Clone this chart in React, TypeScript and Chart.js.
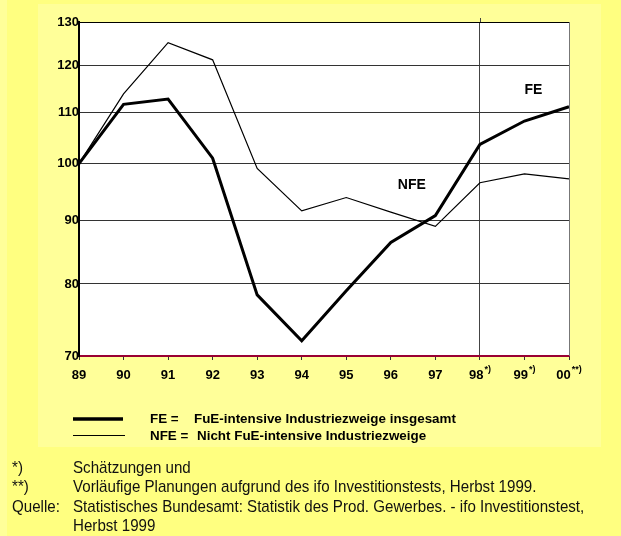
import React, { useEffect, useRef } from 'react';
import { Chart, registerables } from 'chart.js';

Chart.register(...registerables);

// ---- data ----
const years = ['89', '90', '91', '92', '93', '94', '95', '96', '97', '98', '99', '00'];
const yearMarks = ['', '', '', '', '', '', '', '', '', '*)', '*)', '**)'];
const feValues = [100, 111.6, 112.7, 101.0, 78.4, 72.0, 79.0, 86.4, 90.8, 103.6, 108.2, 111.1];
const nfeValues = [100, 113.8, 125.1, 121.2, 99.1, 91.6, 93.9, 91.4, 89.0, 96.5, 98.1, 97.2];
const yTicks = [70, 80, 90, 100, 110, 120, 130];
const legendCodes = ['FE =', 'NFE ='];
const legendTexts = ['FuE-intensive Industriezweige insgesamt', 'Nicht FuE-intensive Industriezweige'];
const footMarks = ['*)', '**)', 'Quelle:', ''];
const footTexts = [
  'Schätzungen und',
  'Vorläufige Planungen aufgrund des ifo Investitionstests, Herbst 1999.',
  'Statistisches Bundesamt: Statistik des Prod. Gewerbes. - ifo Investitionstest,',
  'Herbst 1999',
];
const seriesLabels = ['FE', 'NFE'];

const FONT = '"Liberation Sans", Arial, sans-serif';

const decorPlugin = {
  id: 'decor',
  beforeDraw(chart: any) {
    const ctx = chart.ctx;
    const a = chart.chartArea;
    ctx.save();
    ctx.fillStyle = '#FFFF80';
    ctx.fillRect(0, 0, chart.width, chart.height);
    ctx.fillStyle = '#FFFF99';
    ctx.fillRect(0, 0, 7, chart.height);
    ctx.fillRect(38, 4, 563, 443);
    ctx.fillStyle = '#FFFFFF';
    ctx.fillRect(a.left, a.top, a.right - a.left, a.bottom - a.top);
    ctx.restore();
  },
  afterDraw(chart: any) {
    const ctx = chart.ctx;
    const a = chart.chartArea;
    const xs = chart.scales.x;
    const ys = chart.scales.y;
    ctx.save();
    // right border
    ctx.strokeStyle = '#777';
    ctx.lineWidth = 1;
    ctx.beginPath();
    ctx.moveTo(a.right + 0.5, a.top);
    ctx.lineTo(a.right + 0.5, a.bottom);
    ctx.stroke();
    // small extension of the 98 marker line above the plot
    ctx.strokeStyle = '#444';
    const x98 = Math.round(xs.getPixelForValue(9)) + 0.5;
    ctx.beginPath();
    ctx.moveTo(x98, a.top - 4);
    ctx.lineTo(x98, a.top);
    ctx.stroke();
    // x labels with superscripts
    ctx.fillStyle = '#000';
    ctx.textBaseline = 'middle';
    ctx.textAlign = 'left';
    years.forEach((lab, i) => {
      const x = xs.getPixelForValue(i);
      ctx.font = `bold 13px ${FONT}`;
      const w1 = ctx.measureText(lab).width;
      ctx.font = `bold 9px ${FONT}`;
      const w2 = yearMarks[i] ? ctx.measureText(yearMarks[i]).width + 1 : 0;
      const x0 = x - (w1 + w2) / 2;
      ctx.font = `bold 13px ${FONT}`;
      ctx.fillText(lab, x0, 375);
      if (yearMarks[i]) {
        ctx.font = `bold 9px ${FONT}`;
        ctx.fillText(yearMarks[i], x0 + w1 + 1, 370);
      }
    });
    // series annotations
    ctx.font = `bold 14px ${FONT}`;
    ctx.textAlign = 'center';
    ctx.fillText(seriesLabels[0], xs.getPixelForValue(10) + 9, ys.getPixelForValue(114.5));
    ctx.fillText(seriesLabels[1], xs.getPixelForValue(7) + 21, ys.getPixelForValue(96.0));
    // legend
    ctx.strokeStyle = '#000';
    ctx.lineWidth = 3.5;
    ctx.beginPath();
    ctx.moveTo(73, 419);
    ctx.lineTo(123, 419);
    ctx.stroke();
    ctx.lineWidth = 1.2;
    ctx.beginPath();
    ctx.moveTo(73, 435.5);
    ctx.lineTo(125, 435.5);
    ctx.stroke();
    ctx.textAlign = 'left';
    ctx.font = `bold 13.4px ${FONT}`;
    ctx.fillText(legendCodes[0], 150, 419);
    ctx.fillText(legendTexts[0], 194, 419);
    ctx.fillText(legendCodes[1], 150, 436);
    ctx.fillText(legendTexts[1], 197, 436);
    // footnotes (condensed)
    const sx = 0.89;
    ctx.save();
    ctx.scale(sx, 1);
    ctx.font = `17px ${FONT}`;
    ctx.fillStyle = '#111';
    const rows = [468, 487.5, 507, 526.5];
    footTexts.forEach((t, i) => {
      if (footMarks[i]) ctx.fillText(footMarks[i], 12 / sx, rows[i]);
      ctx.fillText(t, 73 / sx, rows[i]);
    });
    ctx.restore();
    ctx.restore();
  },
};

export default function App() {
  const ref = useRef<HTMLCanvasElement>(null);
  useEffect(() => {
    if (!ref.current) return;
    const chart = new Chart(ref.current, {
      type: 'line',
      data: {
        labels: years,
        datasets: [
          {
            label: seriesLabels[0],
            data: feValues,
            borderColor: '#000',
            borderWidth: 3,
            pointRadius: 0,
            tension: 0,
            fill: false,
          },
          {
            label: seriesLabels[1],
            data: nfeValues,
            borderColor: '#000',
            borderWidth: 1.2,
            pointRadius: 0,
            tension: 0,
            fill: false,
          },
        ],
      },
      options: {
        responsive: false,
        animation: false,
        devicePixelRatio: 1,
        layout: { padding: { top: 22, right: 52, left: 0, bottom: 0 } },
        plugins: { legend: { display: false }, tooltip: { enabled: false }, title: { display: false } },
        scales: {
          x: {
            type: 'category',
            offset: false,
            grid: {
              color: (c: any) => (c.index === 9 ? '#444' : 'rgba(0,0,0,0)'),
              tickColor: '#333',
              tickLength: 4,
              lineWidth: 1,
            },
            border: { color: '#990033', width: 2 },
            ticks: { display: false },
            afterFit: (s: any) => {
              s.height = 180;
            },
          },
          y: {
            type: 'logarithmic',
            min: 70,
            max: 130,
            afterBuildTicks: (s: any) => {
              s.ticks = yTicks.map((v) => ({ value: v }));
            },
            ticks: {
              font: { family: FONT, size: 13, weight: 'bold' },
              color: '#000',
              padding: 0,
              callback: (v: any) => String(v),
            },
            grid: {
              color: (c: any) => (c.tick && c.tick.value === 130 ? '#000' : '#333'),
              drawTicks: false,
              lineWidth: 1,
            },
            border: { color: '#000', width: 2 },
            afterFit: (s: any) => {
              s.width = 79;
            },
          },
        },
      },
      plugins: [decorPlugin],
    } as any);
    return () => chart.destroy();
  }, []);
  return (
    <div style={{ position: 'absolute', left: 0, top: 0, width: 621, height: 536, overflow: 'hidden' }}>
      <canvas ref={ref} width={621} height={536} style={{ display: 'block' }} />
    </div>
  );
}
